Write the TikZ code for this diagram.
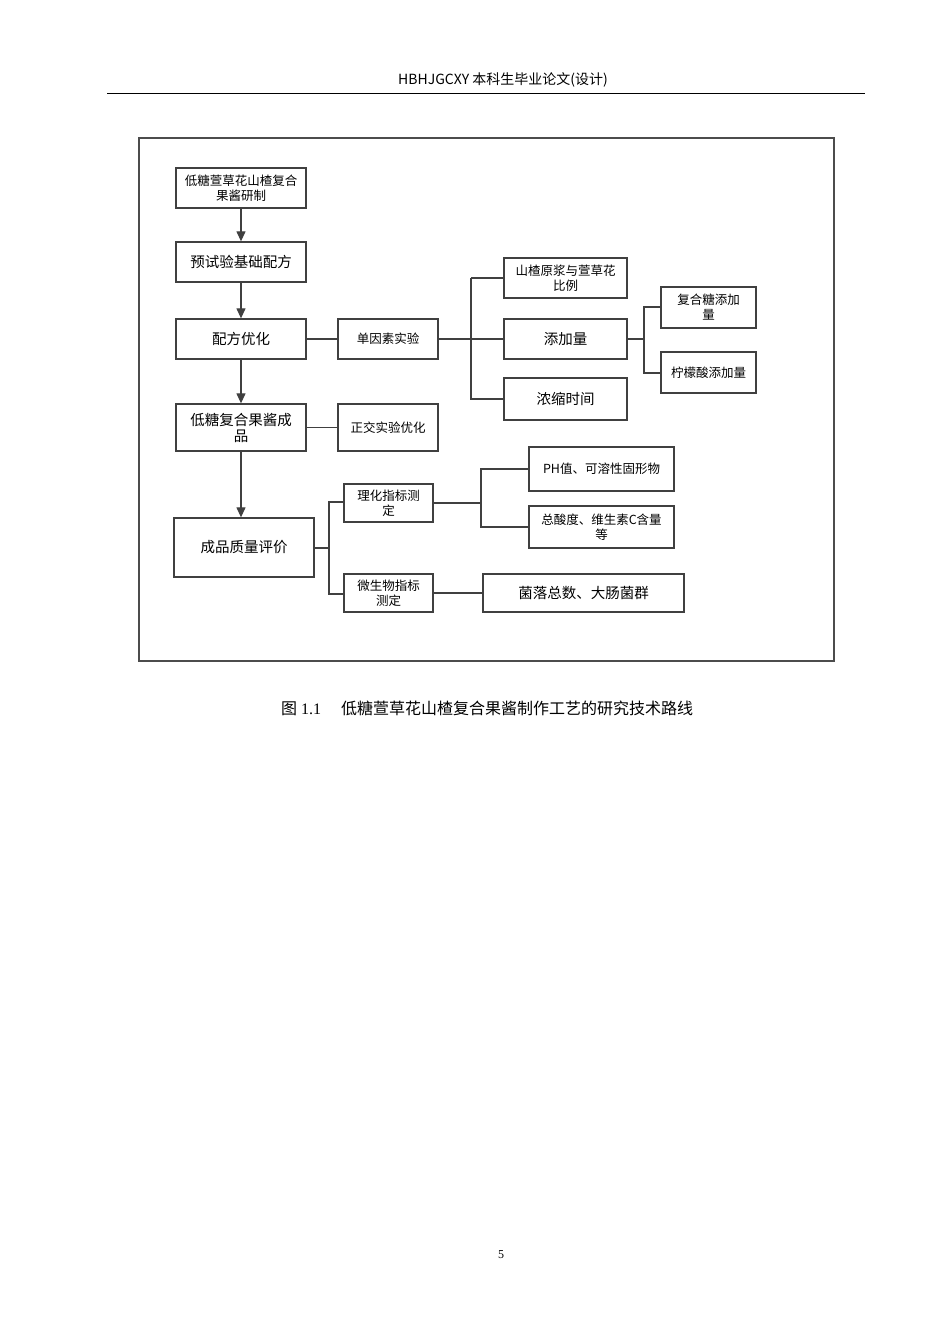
\documentclass[tikz,border=0pt]{standalone}
\usepackage{fontspec}
\setmainfont{Liberation Serif}
\newfontfamily\cjk{Noto Sans CJK SC}
\usetikzlibrary{arrows.meta}
\begin{document}
\begin{tikzpicture}[x=1pt,y=-1pt,
 bx/.style={draw=black!75,line width=1.3pt,fill=white,inner sep=0pt,align=center,font=\cjk\fontsize{14.5}{16}\selectfont},
 sb/.style={bx,font=\cjk\fontsize{12.5}{15}\selectfont},
 ln/.style={draw=black!75,line width=1.2pt},
 ar/.style={ln,-{Triangle[length=10pt,width=9pt]}}]
\useasboundingbox (0,0) rectangle (950,1344);
\node[font=\cjk\fontsize{14}{16}\selectfont] (hd) at (503,80) {HBHJGCXY 本科生毕业论文(设计)};
\draw[line width=0.8pt] (107,93) -- (865,93);
\draw[draw=black!70,line width=1.4pt] (139,138) rectangle (834,661);
\newcommand{\bxat}[6]{\node[#1,minimum width=#4-#2,minimum height=#5-#3] (#6) at ({(#2+#4)/2},{(#3+#5)/2})}
\bxat{sb}{176}{168}{306}{208}{A} {低糖萱草花山楂复合\\果酱研制};
\bxat{bx}{176}{242}{306}{282}{B} {预试验基础配方};
\bxat{bx}{176}{319}{306}{359}{C} {配方优化};
\bxat{bx}{176}{404}{306}{451}{D} {低糖复合果酱成\\品};
\bxat{bx}{174}{518}{314}{577}{E} {成品质量评价};
\bxat{sb}{338}{319}{438}{359}{F} {单因素实验};
\bxat{sb}{338}{404}{438}{451}{G} {正交实验优化};
\bxat{sb}{504}{258}{627}{298}{H} {山楂原浆与萱草花\\比例};
\bxat{bx}{504}{319}{627}{359}{I} {添加量};
\bxat{bx}{504}{378}{627}{420}{J} {浓缩时间};
\bxat{sb}{661}{287}{756}{328}{K} {复合糖添加\\量};
\bxat{sb}{661}{352}{756}{393}{L} {柠檬酸添加量};
\bxat{sb}{344}{484}{433}{522}{M} {理化指标测\\定};
\bxat{sb}{344}{574}{433}{612}{N} {微生物指标\\测定};
\bxat{sb}{529}{447}{674}{491}{O} {PH值、可溶性固形物};
\bxat{sb}{529}{506}{674}{548}{P} {总酸度、维生素C含量\\等};
\bxat{bx}{483}{574}{684}{612}{Q} {菌落总数、大肠菌群};
\draw[ar] (A) -- (B);
\draw[ar] (B) -- (C);
\draw[ar] (C) -- (D);
\draw[ar] (D.south) -- (D.south|-E.north);
\draw[ln] (C) -- (F);
\draw[ln] (D.east|-G) -- (G);
\coordinate (f1) at (471,278);\coordinate (f2) at (471,399);
\draw[ln] (F.east) -- (I.west);
\draw[ln] (f1|-H) -- (f2) -- (J.west|-f2);
\draw[ln] (f1|-H) -- (H.west|-f1);
\coordinate (i1) at (644,307);\coordinate (i2) at (644,373);
\draw[ln] (I.east) -- (i1|-I);
\draw[ln] (K.west|-i1) -- (i1) -- (i2) -- (L.west|-i2);
\coordinate (e1) at (329,502);\coordinate (e2) at (329,594);
\draw[ln] (E.east|-0,548) -- (329,548);
\draw[ln] (M.west|-e1) -- (e1) -- (e2) -- (N.west|-e2);
\coordinate (m1) at (481,469);\coordinate (m2) at (481,527);
\draw[ln] (M.east) -- (m1|-M);
\draw[ln] (O.west|-m1) -- (m1) -- (m2) -- (P.west|-m2);
\draw[ln] (N.east) -- (Q.west|-N);
\node[font=\fontsize{16}{18}\selectfont] (cap) at (487,708) {{\cjk 图} 1.1\quad\ {\cjk 低糖萱草花山楂复合果酱制作工艺的研究技术路线}};
\node[font=\fontsize{12}{14}\selectfont] (pg) at (501,1255) {5};
\end{tikzpicture}
\end{document}
